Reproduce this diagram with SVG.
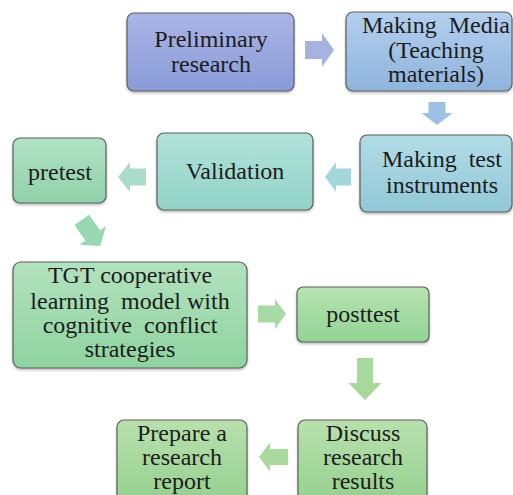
<svg xmlns="http://www.w3.org/2000/svg" width="513" height="495" viewBox="0 0 513 495">
<defs>
<linearGradient id="g1" x1="0" y1="0" x2="0" y2="1"><stop offset="0" stop-color="#abb5e6"/><stop offset="1" stop-color="#8a9bd9"/></linearGradient>
<linearGradient id="g2" x1="0" y1="0" x2="0" y2="1"><stop offset="0" stop-color="#b4cfee"/><stop offset="1" stop-color="#8fb4dc"/></linearGradient>
<linearGradient id="g3" x1="0" y1="0" x2="0" y2="1"><stop offset="0" stop-color="#b2dce7"/><stop offset="1" stop-color="#92c8d6"/></linearGradient>
<linearGradient id="g4" x1="0" y1="0" x2="0" y2="1"><stop offset="0" stop-color="#b1e2da"/><stop offset="1" stop-color="#92d3c6"/></linearGradient>
<linearGradient id="g5" x1="0" y1="0" x2="0" y2="1"><stop offset="0" stop-color="#b1e2c5"/><stop offset="1" stop-color="#8fd2a9"/></linearGradient>
<linearGradient id="g6" x1="0" y1="0" x2="0" y2="1"><stop offset="0" stop-color="#b3e2be"/><stop offset="1" stop-color="#8ed39f"/></linearGradient>
<linearGradient id="g7" x1="0" y1="0" x2="0" y2="1"><stop offset="0" stop-color="#b7e2b1"/><stop offset="1" stop-color="#92d494"/></linearGradient>
<linearGradient id="g8" x1="0" y1="0" x2="0" y2="1"><stop offset="0" stop-color="#b8e0ad"/><stop offset="1" stop-color="#95d18f"/></linearGradient>
<filter id="sh" x="-10%" y="-10%" width="120%" height="130%"><feDropShadow dx="0" dy="1.5" stdDeviation="1.2" flood-color="#000" flood-opacity="0.3"/></filter>
</defs>
<style>
.box{stroke:#5e5e5e;stroke-width:1.2;filter:url(#sh)}
.t{font-family:'Liberation Serif','Times New Roman',serif;font-size:24px;fill:#1c1c1c;text-anchor:middle}
</style>
<g id="connectors">
<polygon points="305,41 322,41 322,33 334,50 322,67 322,59 305,59" fill="#a6b2df"/>
<polygon points="428.5,102 445.5,102 445.5,113 452.5,113 437,125 421.5,113 428.5,113" fill="#9dc1e4"/>
<polygon points="351,168.5 336,168.5 336,162 325,177 336,192 336,185.5 351,185.5" fill="#a4d6dd"/>
<polygon points="146,168.5 130,168.5 130,162 118,177 130,192 130,185.5 146,185.5" fill="#a9dcca"/>
<polygon points="-9,-16 9,-16 9,3 16,3 0,16 -16,3 -9,3" fill="#97d8b1" transform="translate(91,233) rotate(-35)"/>
<polygon points="258,305.5 275,305.5 275,299 286,314 275,329 275,322.5 258,322.5" fill="#a7dba5"/>
<polygon points="357,358 373,358 373,383 381.5,383 365,400 348.5,383 357,383" fill="#a7d99b"/>
<polygon points="288,449 270,449 270,442.5 259,457 270,471.5 270,465 288,465" fill="#aad99d"/>
</g>
<g id="n1"><rect class="box" x="127" y="13" width="167" height="78" rx="7" fill="url(#g1)"/><text class="t" x="211" y="47">Preliminary</text><text class="t" x="211" y="72">research</text></g>
<g id="n2"><rect class="box" x="346" y="12" width="166" height="79" rx="7" fill="url(#g2)"/><text class="t" x="436" y="33" xml:space="preserve">Making  Media</text><text class="t" x="436" y="58">(Teaching</text><text class="t" x="436" y="82">materials)</text></g>
<g id="n3"><rect class="box" x="360" y="135" width="152" height="77" rx="7" fill="url(#g3)"/><text class="t" x="442" y="167" xml:space="preserve">Making  test</text><text class="t" x="442" y="193">instruments</text></g>
<g id="n4"><rect class="box" x="157" y="133" width="156" height="77" rx="7" fill="url(#g4)"/><text class="t" x="235" y="179">Validation</text></g>
<g id="n5"><rect class="box" x="13" y="138" width="93" height="65" rx="7" fill="url(#g5)"/><text class="t" x="60" y="180">pretest</text></g>
<g id="n6"><rect class="box" x="13" y="262" width="234" height="106" rx="8" fill="url(#g6)"/><text class="t" x="130" y="283">TGT cooperative</text><text class="t" x="130" y="309" xml:space="preserve">learning  model with</text><text class="t" x="130" y="333" xml:space="preserve">cognitive  conflict</text><text class="t" x="130" y="357">strategies</text></g>
<g id="n7"><rect class="box" x="297" y="287" width="132" height="55" rx="6" fill="url(#g7)"/><text class="t" x="363" y="322">posttest</text></g>
<g id="n8"><rect class="box" x="298" y="420" width="129" height="82" rx="7" fill="url(#g8)"/><text class="t" x="363" y="441">Discuss</text><text class="t" x="363" y="465">research</text><text class="t" x="363" y="489">results</text></g>
<g id="n9"><rect class="box" x="117" y="420" width="130" height="82" rx="7" fill="url(#g8)"/><text class="t" x="182" y="441">Prepare a</text><text class="t" x="182" y="465">research</text><text class="t" x="182" y="489">report</text></g>
</svg>
